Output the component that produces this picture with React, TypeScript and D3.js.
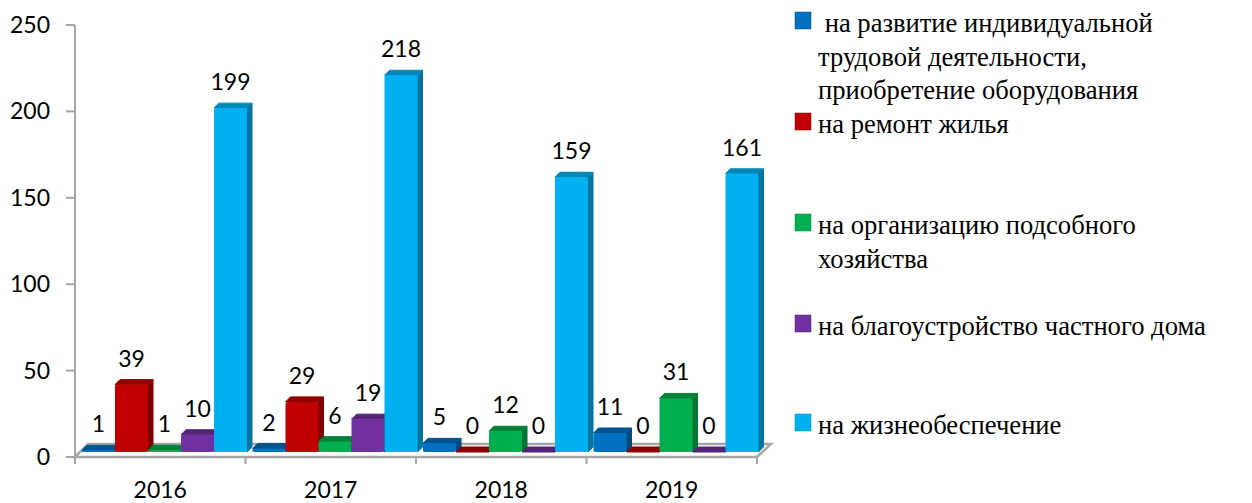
import { useEffect, useRef } from 'react';
import * as d3 from 'd3';

const years = ['2016', '2017', '2018', '2019'];
const seriesNames = ['dev', 'repair', 'farm', 'house', 'life'];
const devValues = [1, 2, 5, 11];
const repairValues = [39, 29, 0, 0];
const farmValues = [1, 6, 12, 31];
const houseValues = [10, 19, 0, 0];
const lifeValues = [199, 218, 159, 161];
const allValues = [devValues, repairValues, farmValues, houseValues, lifeValues];
const yTicks = [0, 50, 100, 150, 200, 250];

const frontColors = ['#0070C0', '#C00000', '#00B050', '#7030A0', '#00B0F0'];
const topColors = ['#00538F', '#8F0000', '#008339', '#532377', '#0087B8'];
const sideColors = ['#004A80', '#800000', '#007533', '#4B1F6C', '#00769F'];

const legendItems = [
  { lines: [' на развитие индивидуальной', 'трудовой деятельности,', 'приобретение оборудования'], y: 32 },
  { lines: ['на ремонт жилья'], y: 133 },
  { lines: ['на организацию подсобного', 'хозяйства'], y: 234 },
  { lines: ['на благоустройство частного дома'], y: 335 },
  { lines: ['на жизнеобеспечение'], y: 434 },
];

const width = 1252;
const height = 503;
const labelFont = 'Lato, Carlito, sans-serif';
const legendFont = '"Liberation Serif", serif';

export default function App() {
  const svgRef = useRef<SVGSVGElement>(null);

  useEffect(() => {
    const svg = d3.select(svgRef.current);
    svg.selectAll('*').remove();

    const margin = { left: 75, right: 757, top: 25, bottom: 457 };
    const depth = 5; // bar depth
    const floorDepth = 13;

    const x = d3.scaleBand().domain(years).range([margin.left, margin.right]);
    const barX = d3.scaleBand().domain(seriesNames).range([7, 172]);
    const y = d3.scaleLinear().domain([0, 250]).range([margin.bottom, margin.top]);
    const barY = (v: number) => y(v) - 5;

    // floor
    svg.append('path')
      .attr('d', `M${margin.left},${margin.bottom}L${margin.left + floorDepth},${margin.bottom - floorDepth}L${margin.right + floorDepth + 1},${margin.bottom - floorDepth}L${margin.right},${margin.bottom}Z`)
      .attr('fill', '#fff')
      .attr('stroke', '#a6a6a6')
      .attr('stroke-width', 2.5);

    // y axis
    svg.append('line')
      .attr('x1', margin.left).attr('x2', margin.left)
      .attr('y1', margin.top).attr('y2', margin.bottom + 6)
      .attr('stroke', '#a6a6a6').attr('stroke-width', 2);

    const yAxis = svg.append('g');
    yAxis.selectAll('line')
      .data(yTicks)
      .enter()
      .append('line')
      .attr('x1', margin.left - 9)
      .attr('x2', margin.left)
      .attr('y1', d => y(d))
      .attr('y2', d => y(d))
      .attr('stroke', '#a6a6a6')
      .attr('stroke-width', 2);
    yAxis.selectAll('text')
      .data(yTicks)
      .enter()
      .append('text')
      .attr('x', 50)
      .attr('y', d => y(d) + 8)
      .attr('text-anchor', 'end')
      .attr('font-family', labelFont)
      .attr('font-size', 23)
      .attr('fill', '#000')
      .text(d => d);

    // x axis
    const xEdges = [...years.map(d => x(d)!), margin.right];
    svg.append('g').selectAll('line')
      .data(xEdges)
      .enter()
      .append('line')
      .attr('x1', d => d)
      .attr('x2', d => d)
      .attr('y1', margin.bottom)
      .attr('y2', margin.bottom + 7)
      .attr('stroke', '#a6a6a6')
      .attr('stroke-width', 2);
    svg.append('g').selectAll('text')
      .data(years)
      .enter()
      .append('text')
      .attr('x', d => x(d)! + x.bandwidth() / 2)
      .attr('y', 498)
      .attr('text-anchor', 'middle')
      .attr('font-family', labelFont)
      .attr('font-size', 23)
      .attr('fill', '#000')
      .text(d => d);

    // bars, left to right so the next bar overlaps the side of the last one
    years.forEach((year, yi) => {
      const g = svg.append('g').attr('transform', `translate(${x(year)},0)`);
      seriesNames.forEach((name, si) => {
        const v = allValues[si][yi];
        const x0 = barX(name)!;
        const w = barX.bandwidth();
        const top = barY(v);
        const base = barY(0);

        g.append('path')
          .attr('d', `M${x0 + w},${top}l${depth},${-depth}V${base - depth}l${-depth},${depth}Z`)
          .attr('fill', sideColors[si])
          .attr('stroke', sideColors[si])
          .attr('stroke-linejoin', 'round');
        g.append('path')
          .attr('d', `M${x0},${top}l${depth},${-depth}h${w}l${-depth},${depth}Z`)
          .attr('fill', topColors[si])
          .attr('stroke', topColors[si])
          .attr('stroke-linejoin', 'round');
        if (v > 0) {
          g.append('rect')
            .attr('x', x0)
            .attr('y', top)
            .attr('width', w)
            .attr('height', base - top)
            .attr('rx', 2)
            .attr('fill', frontColors[si]);
        }
        g.append('text')
          .attr('x', x0 + w / 2)
          .attr('y', top - 18)
          .attr('text-anchor', 'middle')
          .attr('font-family', labelFont)
          .attr('font-size', 23)
          .attr('fill', '#000')
          .text(v);
      });
    });

    // legend
    const legend = svg.append('g');
    legendItems.forEach((item, i) => {
      legend.append('rect')
        .attr('x', 795)
        .attr('y', item.y - 20)
        .attr('width', 16)
        .attr('height', 17)
        .attr('fill', frontColors[i])
        .attr('stroke', topColors[i])
        .attr('stroke-width', 0.5);
      item.lines.forEach((line, li) => {
        legend.append('text')
          .attr('x', 818)
          .attr('y', item.y + li * 33.7)
          .attr('xml:space', 'preserve')
          .style('white-space', 'pre')
          .attr('font-family', legendFont)
          .attr('font-size', 26.6)
          .attr('fill', '#000')
          .text(line);
      });
    });
  }, []);

  return (
    <svg
      ref={svgRef}
      width={width}
      height={height}
      style={{ position: 'absolute', left: 0, top: 0, background: '#fff' }}
    />
  );
}
